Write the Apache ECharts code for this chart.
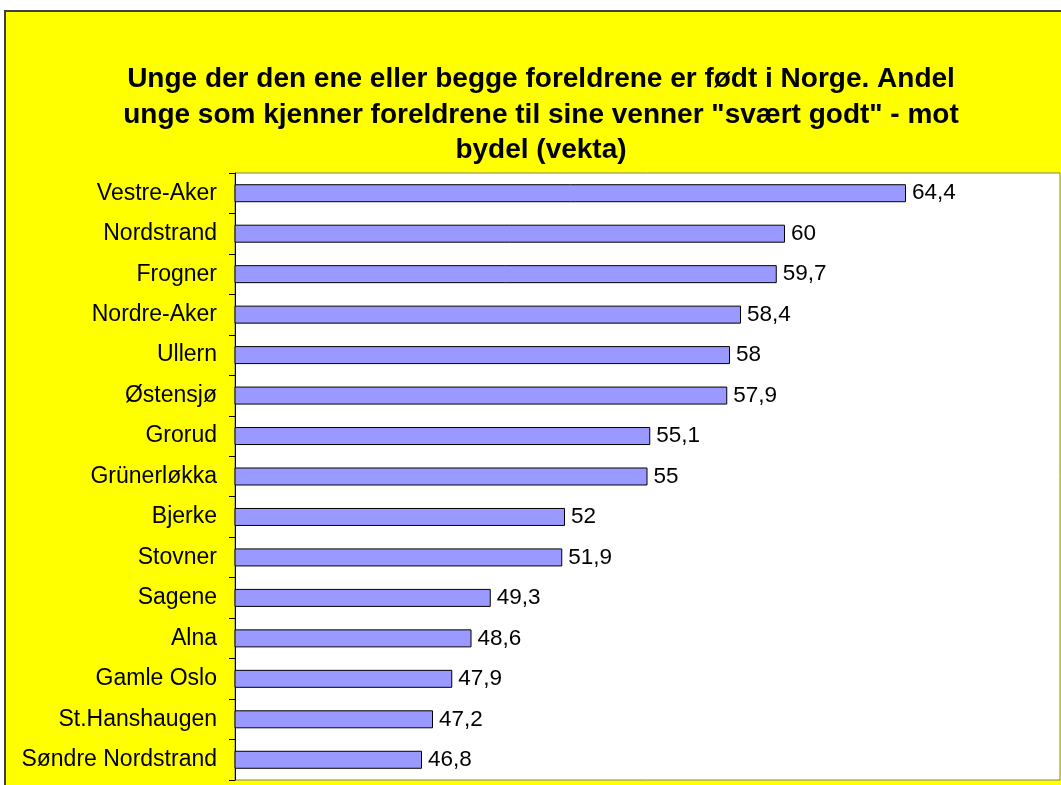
<!DOCTYPE html>
<html>
<head>
<meta charset="utf-8">
<title>Andel unge - bydel</title>
<script src="https://cdn.jsdelivr.net/npm/echarts@6/dist/echarts.min.js"></script>
<style>
  html, body { margin: 0; padding: 0; background: #fff; }
  #frame {
    position: absolute; left: 4px; top: 10px;
    width: 1057px; height: 775px;
    box-sizing: border-box;
    border-left: 2px solid #404040;
    border-top: 2px solid #404040;
    background: #ffff00;
  }
  #main { width: 1055px; height: 773px; }
</style>
</head>
<body>
<div id="frame"><div id="main"></div></div>
<script>
// bydeler, fra toppen og ned
const bydeler = [
  'Vestre-Aker', 'Nordstrand', 'Frogner', 'Nordre-Aker', 'Ullern',
  'Østensjø', 'Grorud', 'Grünerløkka', 'Bjerke', 'Stovner',
  'Sagene', 'Alna', 'Gamle Oslo', 'St.Hanshaugen', 'Søndre Nordstrand'
];
// andel "svært godt" (prosent)
const andel = [64.4, 60, 59.7, 58.4, 58, 57.9, 55.1, 55, 52, 51.9, 49.3, 48.6, 47.9, 47.2, 46.8];

const tittel = 'Unge der den ene eller begge foreldrene er født i Norge. Andel\n' +
  'unge som kjenner foreldrene til sine venner "svært godt" - mot\n' +
  'bydel (vekta)';

const chart = echarts.init(document.getElementById('main'));

let option = {
  backgroundColor: '#ffff00',
  animation: false,
  title: {
    text: tittel,
    left: 535,
    top: 50,
    padding: 0,
    textAlign: 'center',
    textStyle: {
      fontFamily: 'Liberation Sans, Arial, sans-serif',
      fontSize: 28,
      fontWeight: 'bold',
      color: '#000',
      lineHeight: 35.5
    }
  },
  grid: {
    left: 229,
    top: 161,
    right: 1,
    bottom: 5,
    show: true,
    backgroundColor: '#fff',
    borderColor: '#808080',
    borderWidth: 1
  },
  xAxis: {
    type: 'value',
    min: 40,
    max: 70,
    axisLabel: { show: false },
    axisLine: { show: false },
    axisTick: { show: false },
    splitLine: { show: false }
  },
  yAxis: {
    type: 'category',
    inverse: true,
    data: bydeler,
    axisLine: {
      show: true,
      lineStyle: { color: '#000', width: 1 }
    },
    axisTick: {
      show: true,
      length: 6,
      lineStyle: { color: '#000' }
    },
    axisLabel: {
      margin: 18,
      color: '#000',
      fontFamily: 'Liberation Sans, Arial, sans-serif',
      fontSize: 23
    }
  },
  series: [{
    type: 'bar',
    data: andel,
    barWidth: 18,
    itemStyle: {
      color: '#9999ff',
      borderColor: '#000',
      borderWidth: 1
    },
    label: {
      show: true,
      position: 'right',
      distance: 6,
      color: '#000',
      fontFamily: 'Liberation Sans, Arial, sans-serif',
      fontSize: 22.5,
      formatter: function(p) {
        return String(p.value).replace('.', ',');
      }
    }
  }]
};

chart.setOption(option);
</script>
</body>
</html>
